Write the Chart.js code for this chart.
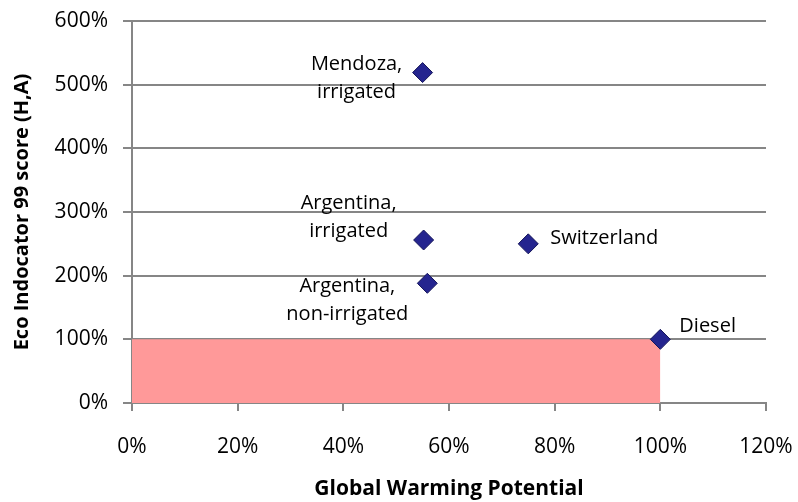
<!DOCTYPE html>
<html>
<head>
<meta charset="utf-8">
<script src="https://cdn.jsdelivr.net/npm/chart.js@4.4.1/dist/chart.umd.min.js"></script>
<style>
  html, body { margin: 0; padding: 0; background: #fff; }
  #wrap { width: 798px; height: 502px; }
</style>
</head>
<body>
<div id="wrap"><canvas id="chart"></canvas></div>
<script>
// values (fractions shown as percent)
const pointNames = ["Mendoza,\nirrigated", "Argentina,\nirrigated", "Argentina,\nnon-irrigated", "Switzerland", "Diesel"];
const gwp = [55, 55.2, 55.9, 75, 100];
const ecoScore = [519, 256, 188, 250, 100];
const xTicks = [0, 20, 40, 60, 80, 100, 120];
const yTicks = [0, 100, 200, 300, 400, 500, 600];
const refBox = { x: [0, 100], y: [0, 100] };

// where each label sits relative to its marker (pixels)
const labelPos = [
  { dx: -66, dy: -8, align: "center" },
  { dx: -75, dy: -37, align: "center" },
  { dx: -80, dy: 3, align: "center" },
  { dx: 22, dy: -6, align: "left" },
  { dx: 19, dy: -13, align: "left" },
];

const FONT = "'Open Sans', Lato, sans-serif";
const GRID = "#868686";

const pointLabels = {
  id: "pointLabels",
  afterDatasetsDraw(chart) {
    const meta = chart.getDatasetMeta(1);
    const ctx = chart.ctx;
    ctx.save();
    ctx.font = "20px " + FONT;
    ctx.fillStyle = "#000";
    ctx.textBaseline = "middle";
    meta.data.forEach((pt, i) => {
      const pos = labelPos[i];
      const lines = pointNames[i].split("\n");
      ctx.textAlign = pos.align;
      lines.forEach((line, j) => {
        ctx.fillText(line, pt.x + pos.dx, pt.y + pos.dy + j * 28);
      });
    });
    ctx.restore();
  }
};

new Chart(document.getElementById("chart"), {
  type: "scatter",
  data: {
    datasets: [
      {
        type: "line",
        data: [
          { x: refBox.x[0], y: refBox.y[1] },
          { x: refBox.x[1], y: refBox.y[1] },
        ],
        fill: "origin",
        backgroundColor: "#FF9999",
        borderWidth: 0,
        pointRadius: 0,
        order: 2,
      },
      {
        data: gwp.map((x, i) => ({ x, y: ecoScore[i] })),
        pointStyle: "rectRot",
        pointRadius: 10,
        pointHoverRadius: 10,
        backgroundColor: "#25258F",
        borderColor: "#16165A",
        borderWidth: 1,
        order: 1,
      },
    ],
  },
  options: {
    responsive: true,
    maintainAspectRatio: false,
    animation: false,
    layout: { padding: { top: 21, right: 32, left: 10, bottom: 0 } },
    plugins: { legend: { display: false }, tooltip: { enabled: false } },
    scales: {
      x: {
        type: "linear",
        min: xTicks[0],
        max: xTicks[xTicks.length - 1],
        afterBuildTicks: (axis) => { axis.ticks = xTicks.map((v) => ({ value: v })); },
        afterFit: (axis) => {
          axis.height = 99;
          axis.paddingLeft = 0;
          axis.paddingRight = 0;
        },
        border: { color: GRID, width: 2 },
        grid: { drawOnChartArea: false, drawTicks: true, tickLength: 8, color: GRID, lineWidth: 2 },
        ticks: {
          padding: 23,
          color: "#000",
          font: { family: FONT, size: 21 },
          callback: (v) => v + "%",
        },
        title: {
          display: true,
          text: "Global Warming Potential",
          color: "#000",
          font: { family: FONT, size: 21, weight: "bold" },
          padding: { top: 6, bottom: 0 },
        },
      },
      y: {
        type: "linear",
        min: yTicks[0],
        max: yTicks[yTicks.length - 1],
        afterBuildTicks: (axis) => { axis.ticks = yTicks.map((v) => ({ value: v })); },
        afterFit: (axis) => {
          axis.width = 122;
          axis.paddingTop = 0;
          axis.paddingBottom = 0;
        },
        border: { color: GRID, width: 2 },
        grid: { color: GRID, lineWidth: 2, tickLength: 9 },
        ticks: {
          padding: 15,
          color: "#000",
          font: { family: FONT, size: 21 },
          callback: (v) => v + "%",
        },
        title: {
          display: true,
          text: "Eco Indocator 99 score (H,A)",
          color: "#000",
          font: { family: FONT, size: 20, weight: "bold" },
          padding: { top: 0, bottom: 4 },
        },
      },
    },
  },
  plugins: [pointLabels],
});
</script>
</body>
</html>
